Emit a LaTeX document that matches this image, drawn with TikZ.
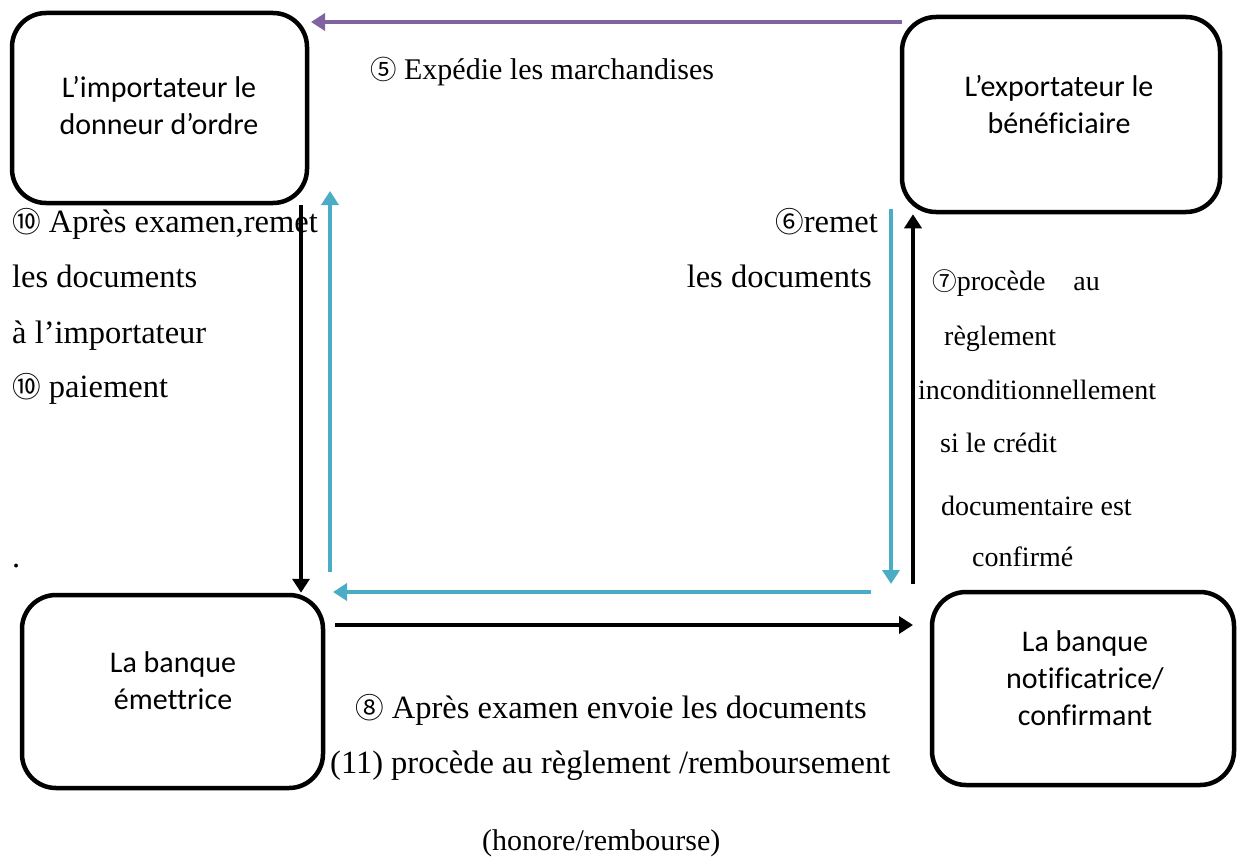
\documentclass[tikz,border=0pt]{standalone}
\usepackage{fontspec}
\setmainfont{Liberation Serif}[Ligatures=NoCommon]
\newfontfamily\boxfont{Carlito}[Ligatures=NoCommon]
\newfontfamily\circfont{Noto Sans CJK JP}
\usetikzlibrary{arrows.meta}
\definecolor{flowpurple}{HTML}{8064A2}
\definecolor{flowblue}{HTML}{4BACC6}
% circled step numbers
\newcommand\cnum[1]{\scalebox{0.88}{\circfont #1}}

\begin{document}
\begin{tikzpicture}[x=1pt,y=-1pt,
  party/.style={draw=black, line width=4.5pt, rounded corners=34pt, inner sep=0pt},
  boxtext/.style={font=\boxfont\fontsize{30}{37}\selectfont, align=center, inner sep=0pt},
  note/.style={font=\fontsize{32.5}{32.5}\selectfont, inner sep=0pt, anchor=base west},
  notee/.style={note, anchor=base east},
  smallnote/.style={note, font=\fontsize{30}{30}\selectfont},
  small/.style={font=\fontsize{28}{28}\selectfont, inner sep=0pt, anchor=base west},
  flow/.style={line width=4pt, -{Triangle[width=17pt,length=14pt]}},
]
\useasboundingbox (0,0) rectangle (1238,856);

% the four parties
\node[party, minimum width=295pt, minimum height=190pt] (imp) at (159.5,108) {};
\node[party, minimum width=318pt, minimum height=195pt] (exp) at (1061,114.5) {};
\node[party, minimum width=301pt, minimum height=193pt] (bem) at (172.5,691.5) {};
\node[party, minimum width=302pt, minimum height=193pt] (bnot) at (1083,688.5) {};

\node[boxtext] (impt) at (159,106) {L’importateur le\\donneur d’ordre};
\node[boxtext] (expt) at (1059,105) {L’exportateur le\\bénéficiaire};
\node[boxtext] (bemt) at (173,681) {La banque\\émettrice};
\node[boxtext] (bnott) at (1085,678) {La banque\\notificatrice/\\confirmant};

% connector end points
\coordinate (p5a) at (902,22);
\coordinate (p5b) at (311,22);
\coordinate (bu1) at (330,572);
\coordinate (bu2) at (330,191);
\coordinate (bd1) at (891,209);
\coordinate (bd2) at (891,584);
\coordinate (ku1) at (913,584);
\coordinate (bl1) at (871,592);
\coordinate (bl2) at (333,592);
\coordinate (kr1) at (335,625);
\coordinate (kr2) at (913,625);
\coordinate (kd) at (301,0);

% flows
\draw[flow, flowpurple] (p5a) -- (p5b);
\draw[flow, black] (imp.south -| kd) -- (bem.north -| kd);
\draw[flow, flowblue] (bu1) -- (bu2);
\draw[flow, flowblue] (bd1) -- (bd2);
\draw[flow, black] (ku1) -- (exp.south -| ku1);
\draw[flow, flowblue] (bl1) -- (bl2);
\draw[flow, black] (kr1) -- (kr2);

% step labels
\node[smallnote] (l5) at (370,80) {\cnum{⑤} Expédie les marchandises};

\node[note] (l10a) at (12,232) {\cnum{⑩} Après examen,remet};
\node[note] (l10b) at (12,287) {les documents};
\node[note] (l10c) at (12,343) {à l’importateur};
\node[note] (l10d) at (12,397) {\cnum{⑩} paiement};
\node[note] (dot) at (12,567) {.};

\node[notee] (l6a) at (878,232) {\cnum{⑥}remet};
\node[notee] (l6b) at (872,287) {les documents};

\node[small] (l7a) at (932,290) {\cnum{⑦}procède\hspace{28pt}au};
\node[small] (l7b) at (944,345) {règlement};
\node[small] (l7c) at (918,399) {inconditionnellement};
\node[small] (l7d) at (940,452) {si le crédit};
\node[small] (l7e) at (941,515) {documentaire est};
\node[small] (l7f) at (972,566) {confirmé};

\node[note] (l8) at (355,718) {\cnum{⑧} Après examen envoie les documents};
\node[note] (l11) at (330,773) {(11) procède au règlement /remboursement};
\node[smallnote] (l11b) at (482,850) {(honore/rembourse)};
\end{tikzpicture}
\end{document}
